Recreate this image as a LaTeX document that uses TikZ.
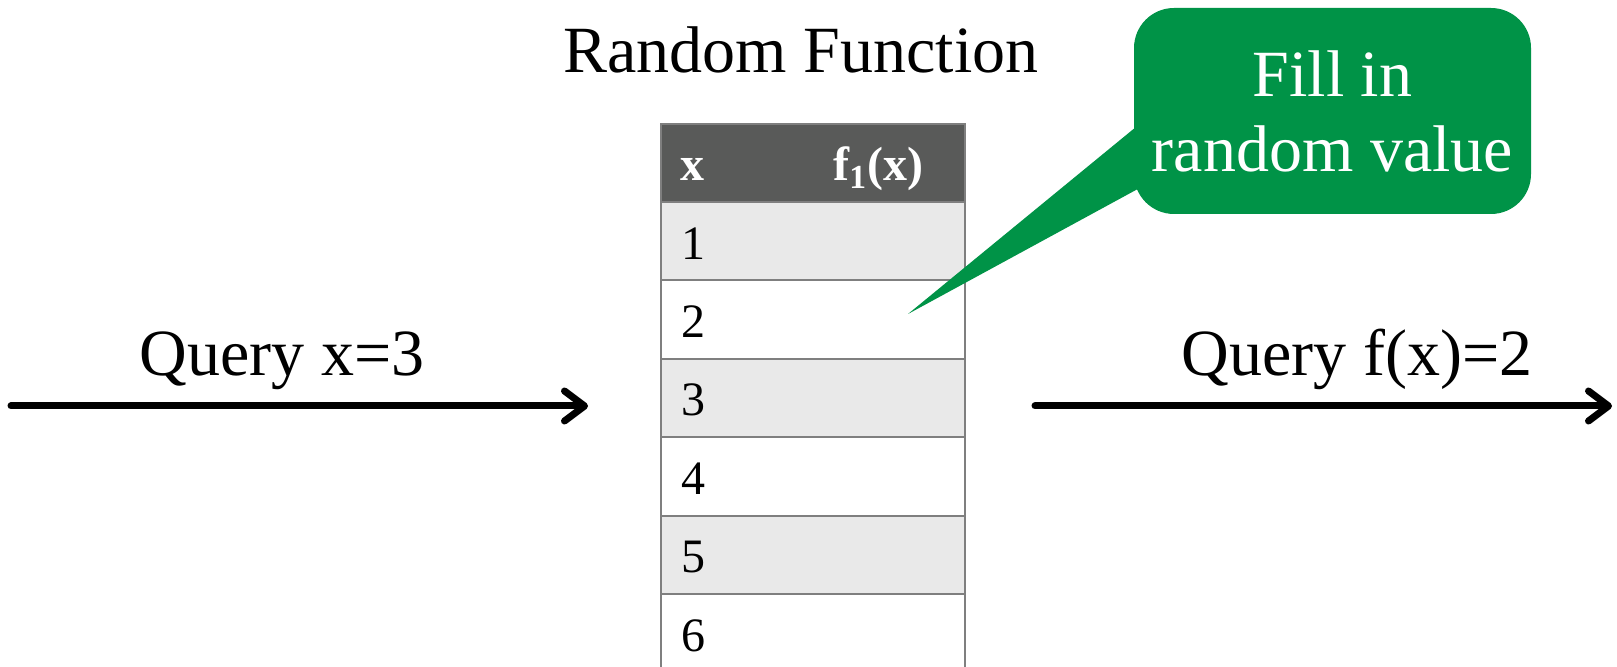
\documentclass[tikz,border=0pt]{standalone}
\usepackage{fontspec}
\setmainfont{Liberation Serif}
\usetikzlibrary{arrows.meta,calc}

\definecolor{boxgreen}{RGB}{0,147,71}
\definecolor{headgray}{RGB}{89,90,89}
\definecolor{rowgray}{RGB}{233,233,233}
\definecolor{linegray}{RGB}{127,127,127}

\tikzset{
  bigtext/.style={font=\fontsize{33}{37.5}\selectfont},
  cell/.style={draw=linegray, line width=1pt, minimum width=152pt, minimum height=39.25pt, inner sep=0pt},
  digit/.style={anchor=west, inner sep=0pt, font=\fontsize{24}{27}\selectfont},
  headtext/.style={anchor=base west, inner sep=0pt, text=white, font=\fontsize{24}{27}\selectfont\bfseries},
  query/.style={line width=3.5pt, line cap=round, -{Straight Barb[length=10pt,width=15pt,round]}}
}

\begin{document}
\begin{tikzpicture}[x=0.5pt,y=-0.5pt]
            \clip (0,0) rectangle (1617,667);
            \node [bigtext, anchor=base] (title) at (801,73) {Random Function};
            % table: header row plus six value rows
            \node [cell, fill=headgray, minimum height=39pt] (head) at (813,163) {};
            \node [headtext] (hx) at (680,181) {x};
            \node [headtext] (hf) at (833,181) {f\textsubscript{1}(x)};
            \foreach \i in {1,...,6} {
              \pgfmathtruncatemacro{\odd}{mod(\i,2)}
              \ifnum\odd=1 \def\rowfill{rowgray}\else\def\rowfill{white}\fi
              \node [cell, fill=\rowfill] (r\i) at (813,{202+78.5*(\i-0.5)}) {};
              \node [digit] (d\i) at ($(r\i.west)+(21,2)$) {\i};
            }
            % callout
            \node [bigtext, fill=boxgreen, text=white, rounded corners=20pt, align=center,
                   minimum width=198.5pt, minimum height=103pt, inner sep=0pt] (note) at (1332.5,111) {Fill in\\random value};
            \coordinate (tip) at (908,314);
            \fill [boxgreen] ($(note.west)+(6,13)$) -- (tip) -- ($(note.west)+(6,77)$) -- cycle;
            % queries in and out
            \coordinate (inA) at (11,406);
            \coordinate (inB) at (588,406);
            \coordinate (outA) at (1035,406);
            \coordinate (outB) at (1612,406);
            \draw [query] (inA) -- (inB);
            \draw [query] (outA) -- (outB);
            \node [bigtext, anchor=base] (qx) at (282,376) {Query x=3};
            \node [bigtext, anchor=base] (qf) at (1357,376) {Query f(x)=2};
        \end{tikzpicture}
\end{document}
